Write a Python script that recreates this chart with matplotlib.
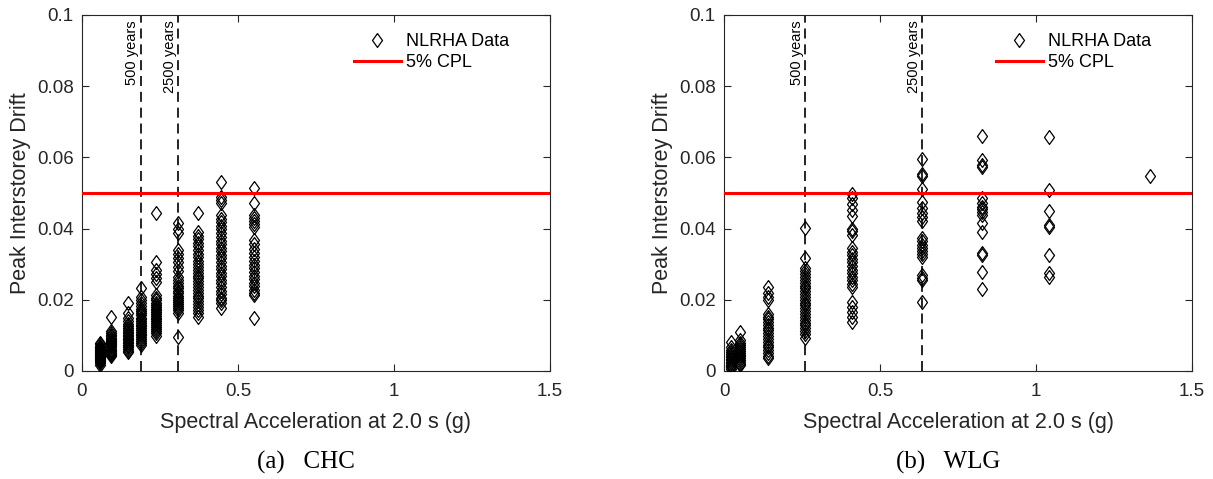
import matplotlib
matplotlib.use('Agg')
import matplotlib.pyplot as plt
from matplotlib.ticker import FixedLocator, FixedFormatter

plt.rcParams['font.family'] = ['Liberation Sans', 'DejaVu Sans']

# Spectral acceleration columns and peak drifts
chc_sa = [0.058, 0.092, 0.146, 0.188, 0.237, 0.309, 0.372, 0.445, 0.551]
chc_drift = [
    [0.0080, 0.0075, 0.0071, 0.0068, 0.0065, 0.0062, 0.0060, 0.0058, 0.0056, 0.0054,
     0.0052, 0.0050, 0.0048, 0.0046, 0.0044, 0.0042, 0.0040, 0.0038, 0.0036, 0.0034,
     0.0032, 0.0030, 0.0028, 0.0025, 0.0022, 0.0018],
    [0.0152, 0.0112, 0.0106, 0.0101, 0.0097, 0.0093, 0.0090, 0.0087, 0.0084, 0.0081,
     0.0078, 0.0075, 0.0072, 0.0069, 0.0066, 0.0063, 0.0060, 0.0057, 0.0054, 0.0051,
     0.0048, 0.0045, 0.0041],
    [0.0192, 0.0162, 0.0148, 0.0140, 0.0132, 0.0126, 0.0120, 0.0115, 0.0110, 0.0106,
     0.0102, 0.0098, 0.0094, 0.0090, 0.0086, 0.0082, 0.0078, 0.0074, 0.0070, 0.0066,
     0.0062, 0.0057, 0.0052],
    [0.0232, 0.0209, 0.0198, 0.0190, 0.0182, 0.0175, 0.0168, 0.0162, 0.0156, 0.0150,
     0.0145, 0.0140, 0.0135, 0.0130, 0.0125, 0.0120, 0.0115, 0.0110, 0.0105, 0.0100,
     0.0095, 0.0090, 0.0085, 0.0080, 0.0073],
    [0.0445, 0.0307, 0.0284, 0.0272, 0.0262, 0.0251, 0.0213, 0.0205, 0.0198, 0.0192,
     0.0186, 0.0180, 0.0175, 0.0170, 0.0165, 0.0160, 0.0155, 0.0150, 0.0145, 0.0140,
     0.0135, 0.0130, 0.0124, 0.0118, 0.0112, 0.0106, 0.0099],
    [0.0415, 0.0400, 0.0387, 0.0340, 0.0330, 0.0318, 0.0305, 0.0292, 0.0280, 0.0265,
     0.0256, 0.0248, 0.0240, 0.0232, 0.0225, 0.0218, 0.0212, 0.0206, 0.0200, 0.0194,
     0.0188, 0.0182, 0.0176, 0.0170, 0.0162, 0.0096],
    [0.0443, 0.0391, 0.0380, 0.0370, 0.0360, 0.0350, 0.0340, 0.0330, 0.0320, 0.0310,
     0.0300, 0.0292, 0.0284, 0.0276, 0.0268, 0.0260, 0.0252, 0.0244, 0.0236, 0.0228,
     0.0220, 0.0212, 0.0204, 0.0196, 0.0188, 0.0180, 0.0172, 0.0162, 0.0153],
    [0.0532, 0.0490, 0.0480, 0.0471, 0.0438, 0.0428, 0.0418, 0.0408, 0.0398, 0.0388,
     0.0377, 0.0366, 0.0356, 0.0346, 0.0336, 0.0326, 0.0316, 0.0306, 0.0296, 0.0286,
     0.0276, 0.0266, 0.0256, 0.0246, 0.0236, 0.0226, 0.0216, 0.0206, 0.0199, 0.0190,
     0.0176],
    [0.0515, 0.0471, 0.0438, 0.0430, 0.0422, 0.0414, 0.0405, 0.0368, 0.0356, 0.0344,
     0.0332, 0.0320, 0.0308, 0.0298, 0.0288, 0.0278, 0.0268, 0.0258, 0.0248, 0.0238,
     0.0228, 0.0220, 0.0213, 0.0148],
]

wlg_sa = [0.021, 0.051, 0.142, 0.260, 0.409, 0.634, 0.828, 1.043, 1.365]
wlg_drift = [
    [0.0082, 0.0068, 0.0060, 0.0054, 0.0048, 0.0043, 0.0038, 0.0034, 0.0030, 0.0026,
     0.0022, 0.0018, 0.0014, 0.0010, 0.0006],
    [0.0109, 0.0087, 0.0078, 0.0072, 0.0066, 0.0061, 0.0056, 0.0051, 0.0046, 0.0041,
     0.0036, 0.0031, 0.0026, 0.0021, 0.0017],
    [0.0235, 0.0218, 0.0208, 0.0200, 0.0160, 0.0152, 0.0145, 0.0138, 0.0130, 0.0122,
     0.0114, 0.0106, 0.0098, 0.0090, 0.0082, 0.0074, 0.0066, 0.0058, 0.0050, 0.0043,
     0.0036],
    [0.0403, 0.0316, 0.0288, 0.0280, 0.0272, 0.0264, 0.0256, 0.0248, 0.0240, 0.0232,
     0.0224, 0.0216, 0.0208, 0.0200, 0.0192, 0.0184, 0.0176, 0.0168, 0.0160, 0.0152,
     0.0144, 0.0136, 0.0128, 0.0120, 0.0112, 0.0104, 0.0092],
    [0.0498, 0.0485, 0.0469, 0.0452, 0.0434, 0.0400, 0.0392, 0.0382, 0.0345, 0.0335,
     0.0325, 0.0315, 0.0305, 0.0295, 0.0285, 0.0275, 0.0265, 0.0255, 0.0245, 0.0237,
     0.0195, 0.0180, 0.0165, 0.0152, 0.0139],
    [0.0595, 0.0552, 0.0547, 0.0511, 0.0476, 0.0457, 0.0445, 0.0432, 0.0420, 0.0373,
     0.0364, 0.0355, 0.0346, 0.0338, 0.0330, 0.0321, 0.0270, 0.0262, 0.0256, 0.0195],
    [0.0660, 0.0593, 0.0580, 0.0574, 0.0485, 0.0471, 0.0462, 0.0455, 0.0447, 0.0438,
     0.0415, 0.0391, 0.0331, 0.0326, 0.0277, 0.0229],
    [0.0656, 0.0507, 0.0449, 0.0410, 0.0404, 0.0325, 0.0274, 0.0265],
    [0.0548],
]

# return period Sa lines (500 and 2500 years)
chc_rp = [0.188, 0.309]
wlg_rp = [0.260, 0.634]
rp_labels = ['500 years', '2500 years']

cpl = 0.05
x_ticks = [0, 0.5, 1, 1.5]
x_ticklabels = ['0', '0.5', '1', '1.5']
y_ticks = [0, 0.02, 0.04, 0.06, 0.08, 0.1]
y_ticklabels = ['0', '0.02', '0.04', '0.06', '0.08', '0.1']
captions = ['(a)   CHC', '(b)   WLG']

# matlab style diamond, a bit taller than wide
diamond = [(0, 1), (0.72, 0), (0, -1), (-0.72, 0), (0, 1)]

fig = plt.figure(figsize=(12.13, 4.79), dpi=100)
ax1 = fig.add_axes([0.0676, 0.2255, 0.3858, 0.7432])
ax2 = fig.add_axes([0.5969, 0.2255, 0.3858, 0.7432])

dark = '#262626'
for ax, sa, drift, rp, cap in [(ax1, chc_sa, chc_drift, chc_rp, captions[0]),
                               (ax2, wlg_sa, wlg_drift, wlg_rp, captions[1])]:
    xs, ys = [], []
    for s, d in zip(sa, drift):
        xs += [s] * len(d)
        ys += d
    ax.plot(xs, ys, linestyle='none', marker=diamond, markersize=10,
            markerfacecolor='none', markeredgecolor='k', markeredgewidth=0.9,
            label='NLRHA Data', zorder=3)
    ax.axhline(cpl, color='#ff0000', linewidth=2.2, label='5% CPL', zorder=4)
    for xv, lab in zip(rp, rp_labels):
        ax.axvline(xv, color='k', linestyle=(0, (6, 3.5)), linewidth=1.2, zorder=2)
        ax.text(xv - 0.004, 0.0985, lab, rotation=90, ha='right', va='top',
                fontsize=10.5)
    ax.set_xlim(0, 1.5)
    ax.set_ylim(0, 0.1)
    ax.xaxis.set_major_locator(FixedLocator(x_ticks))
    ax.xaxis.set_major_formatter(FixedFormatter(x_ticklabels))
    ax.yaxis.set_major_locator(FixedLocator(y_ticks))
    ax.yaxis.set_major_formatter(FixedFormatter(y_ticklabels))
    ax.tick_params(direction='in', top=True, right=True, length=5, width=0.8,
                   labelsize=13.5, colors=dark, labelcolor=dark)
    ax.tick_params(axis='x', pad=9)
    ax.tick_params(axis='y', pad=6)
    for sp in ax.spines.values():
        sp.set_color(dark)
        sp.set_linewidth(0.8)
    ax.set_xlabel('Spectral Acceleration at 2.0 s (g)', fontsize=15.5, color=dark,
                  labelpad=8)
    ax.set_ylabel('Peak Interstorey Drift', fontsize=15.5, color=dark, labelpad=4)
    ax.legend(loc='upper right', frameon=False, fontsize=13,
              bbox_to_anchor=(0.94, 0.985), handlelength=2.6, borderaxespad=0.3,
              labelspacing=0.25, handletextpad=0.3)
    ax.text(0.478, -0.258, cap, transform=ax.transAxes, ha='center', va='center',
            fontsize=18, family=['Liberation Serif', 'DejaVu Serif'])

fig.savefig('out.png', dpi=100)
